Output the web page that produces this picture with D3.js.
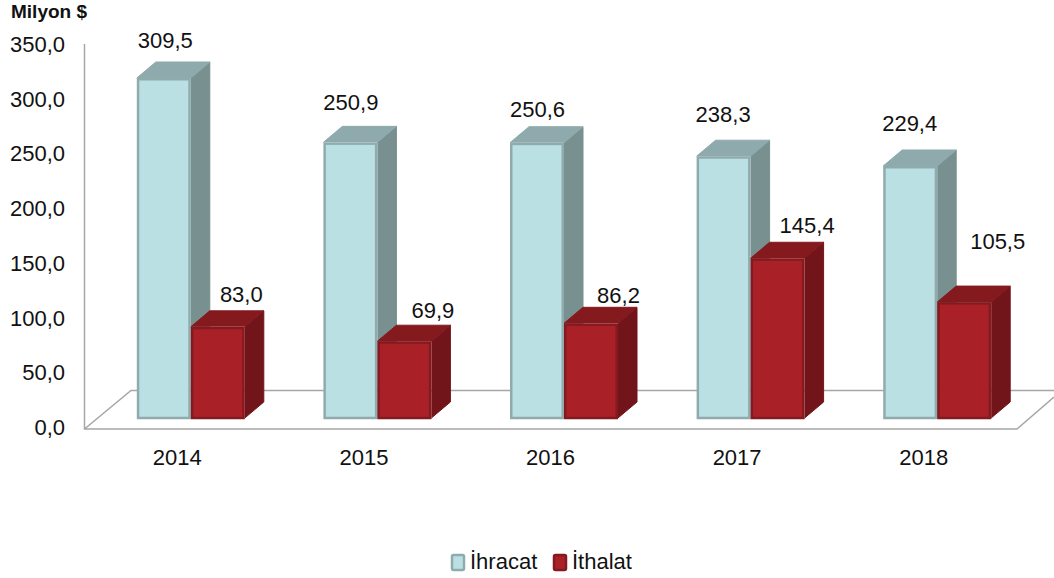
<!doctype html>
<html lang="tr">
<head>
  <meta charset="utf-8">
  <title>İhracat ve İthalat</title>
  <style>
    html, body { margin:0; padding:0; background:#fff; }
    svg { display:block; }
    text { font-family:"Liberation Sans", Arial, sans-serif; fill:#111; }
    .axis path, .axis line { display:none; }
    .axis text { font-size:22px; font-family:"Liberation Sans", Arial, sans-serif; fill:#111; }
  </style>
</head>
<body>
<div id="chart"></div>
<script src="https://d3js.org/d3.v7.min.js"></script>
<script>
var years = ["2014", "2015", "2016", "2017", "2018"];
var ihracat = [309.5, 250.9, 250.6, 238.3, 229.4];
var ithalat = [83.0, 69.9, 86.2, 145.4, 105.5];
var yTicks = [0, 50, 100, 150, 200, 250, 300, 350];

// hand placed value labels, the original chart has them moved around
var ihracatNudge = [[1, -38], [0, -40], [0, -33], [-1, -42], [-1, -43]];
var ithalatNudge = [[23, -33], [28, -31], [27, -28], [29, -33], [33, -61]];

var width = 1054, height = 578;
var depthX = 19, depthY = -16;
var barW = 54;

var svg = d3.select("#chart").append("svg")
  .attr("width", width)
  .attr("height", height);

var x = d3.scaleBand().domain(years).range([97.5, 1030.5]);
var y = d3.scaleLinear().domain([0, 350]).range([418, 33.5]);
var yAxisScale = d3.scaleLinear().domain([0, 350]).range([427.5, 44.5]);

var fmt = function(d) { return d3.format(".1f")(d).replace(".", ","); };

// floor and wall
var floorColor = "#a6a6a6";
svg.append("path")
  .attr("d", "M84.5,44V429H1017L1054,397M84.5,429L131,390.5H1054")
  .attr("fill", "none")
  .attr("stroke", floorColor)
  .attr("stroke-width", 1.5);

svg.append("g").attr("class", "axis")
  .attr("transform", "translate(84,0)")
  .call(d3.axisLeft(yAxisScale).tickValues(yTicks).tickFormat(fmt).tickSize(0).tickPadding(19));

svg.append("g").attr("class", "axis")
  .attr("transform", "translate(-13.5,446)")
  .call(d3.axisBottom(x).tickSize(0).tickPadding(3));

function bar3d(g, left, value, c) {
  var top = y(value), base = y(0), right = left + barW;
  g.append("path").attr("fill", c.side).attr("stroke", c.side).attr("stroke-linejoin", "round")
    .attr("d", d3.line()([[right, top], [right + depthX, top + depthY], [right + depthX, base + depthY], [right, base]]));
  g.append("path").attr("fill", c.top).attr("stroke", c.top).attr("stroke-linejoin", "round")
    .attr("d", d3.line()([[left, top], [left + depthX, top + depthY], [right + depthX, top + depthY], [right, top]]));
  g.append("rect")
    .attr("x", left + 1.25).attr("y", top + 1.25)
    .attr("width", barW - 2.5).attr("height", base - top - 1.25)
    .attr("fill", c.front).attr("stroke", c.edge).attr("stroke-width", 2.5);
}

var cIhracat = { front:"#bbe0e3", edge:"#8fabae", top:"#8eaaac", side:"#78908f" };
var cIthalat = { front:"#aa2027", edge:"#84191f", top:"#841a1e", side:"#72151a" };

var bars = svg.append("g");
years.forEach(function(yr, i) {
  var mid = x(yr) + x.bandwidth() / 2;
  bar3d(bars, mid - barW, ihracat[i], cIhracat);
  bar3d(bars, mid, ithalat[i], cIthalat);
});

function valueLabels(values, nudge, shift) {
  svg.append("g").selectAll("text")
    .data(values)
    .join("text")
    .attr("x", function(d, i) { return x(years[i]) + x.bandwidth() / 2 + shift + nudge[i][0] + 0.5; })
    .attr("y", function(d, i) { return y(d) + nudge[i][1]; })
    .attr("dy", "0.35em")
    .attr("text-anchor", "middle")
    .style("font-size", "22px")
    .text(fmt);
}
valueLabels(ihracat, ihracatNudge, -barW / 2);
valueLabels(ithalat, ithalatNudge, barW / 2);

svg.append("text")
  .attr("x", 11).attr("y", 18)
  .style("font-size", "19px")
  .style("font-weight", "bold")
  .text("Milyon $");

// legend
var legend = [["İhracat", cIhracat, 452], ["İthalat", cIthalat, 554]];
legend.forEach(function(l) {
  svg.append("rect")
    .attr("x", l[2]).attr("y", 555)
    .attr("width", 12).attr("height", 15).attr("rx", 1.5)
    .attr("fill", l[1].front).attr("stroke", l[1].edge).attr("stroke-width", 2.5);
  svg.append("text")
    .attr("x", l[2] + 18).attr("y", 569)
    .style("font-size", "22px")
    .text(l[0]);
});
</script>
</body>
</html>
